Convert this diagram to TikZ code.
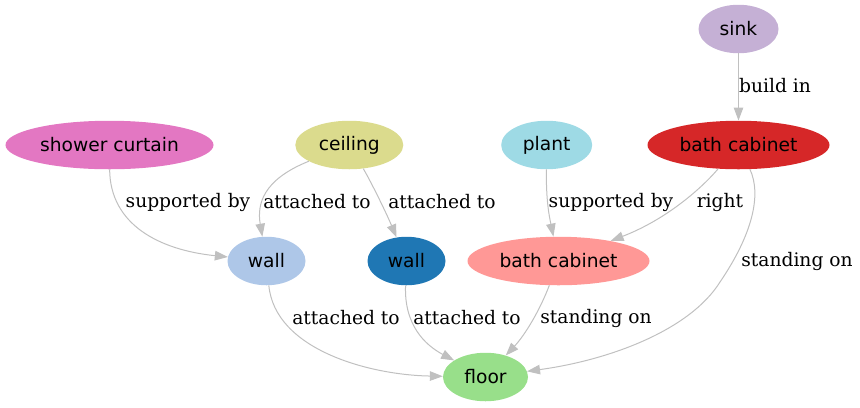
\documentclass[tikz,border=0pt]{standalone}
\usepackage{fontspec}
\setmainfont{DejaVu Serif}
\newfontfamily\nodefont{DejaVu Sans}
\usetikzlibrary{shapes.geometric,arrows.meta}
\definecolor{cPink}{HTML}{E377C2}
\definecolor{cCeil}{HTML}{DBDB8D}
\definecolor{cPlant}{HTML}{9EDAE5}
\definecolor{cRed}{HTML}{D62728}
\definecolor{cLB}{HTML}{AEC7E8}
\definecolor{cDB}{HTML}{1F77B4}
\definecolor{cSalmon}{HTML}{FF9896}
\definecolor{cFloor}{HTML}{98DF8A}
\definecolor{cSink}{HTML}{C5B0D5}
\definecolor{cEdge}{HTML}{C0C0C0}
\tikzset{
  obj/.style={ellipse, inner sep=0pt, minimum height=48.5bp, font=\nodefont\fontsize{18.67bp}{22bp}\selectfont, text=black},
  rel/.style={draw=cEdge, line width=1bp, -{Triangle[length=13bp,width=9.5bp]}},
  lab/.style={font=\fontsize{18.67bp}{22bp}\selectfont, text=black, inner sep=0pt}
}
\begin{document}
\begin{tikzpicture}[x=1bp,y=-1bp]
\useasboundingbox (0,0) rectangle (860,407);
% nodes
\node[obj, fill=cSink, minimum width=80bp] (sink) at (738.5,29) {sink};
\node[obj, fill=cPink, minimum width=208bp] (sc) at (109.5,145) {shower curtain};
\node[obj, fill=cCeil, minimum width=108bp] (ceil) at (349.3,145) {ceiling};
\node[obj, fill=cPlant, minimum width=91bp] (plant) at (546.7,145) {plant};
\node[obj, fill=cRed, minimum width=182bp] (rbc) at (738.5,145) {bath cabinet};
\node[obj, fill=cLB, minimum width=78bp] (wlb) at (266.5,261) {wall};
\node[obj, fill=cDB, minimum width=78bp] (wdb) at (406.5,261) {wall};
\node[obj, fill=cSalmon, minimum width=182bp] (pbc) at (558.5,261) {bath cabinet};
\node[obj, fill=cFloor, minimum width=85bp] (floor) at (485.5,377) {floor};
% edges
\draw[rel] (sink) -- (rbc) node[lab, at={(775,86)}] {build in};
\draw[rel] (sc) .. controls (110,225) and (160,250) .. (wlb) node[lab, at={(188,202)}] {supported by};
\draw[rel] (ceil) .. controls (262,180) and (257,205) .. (wlb) node[lab, at={(317,202)}] {attached to};
\draw[rel] (ceil) .. controls (370,180) and (385,210) .. (wdb) node[lab, at={(442,202)}] {attached to};
\draw[rel] (plant) .. controls (546,200) and (549,215) .. (pbc) node[lab, at={(611,202)}] {supported by};
\draw[rel] (rbc) .. controls (700,190) and (665,220) .. (pbc) node[lab, at={(720,202)}] {right};
\draw[rel] (rbc) .. controls (762,195) and (752,235) .. (720,282) .. controls (690,330) and (610,360) .. (floor) node[lab, at={(797,261)}] {standing on};
\draw[rel] (wlb) .. controls (275,350) and (370,375) .. (floor) node[lab, at={(346,318)}] {attached to};
\draw[rel] (wdb) .. controls (404,325) and (425,345) .. (floor) node[lab, at={(467,318)}] {attached to};
\draw[rel] (pbc) .. controls (540,310) and (525,335) .. (floor) node[lab, at={(596,318)}] {standing on};
\end{tikzpicture}
\end{document}
